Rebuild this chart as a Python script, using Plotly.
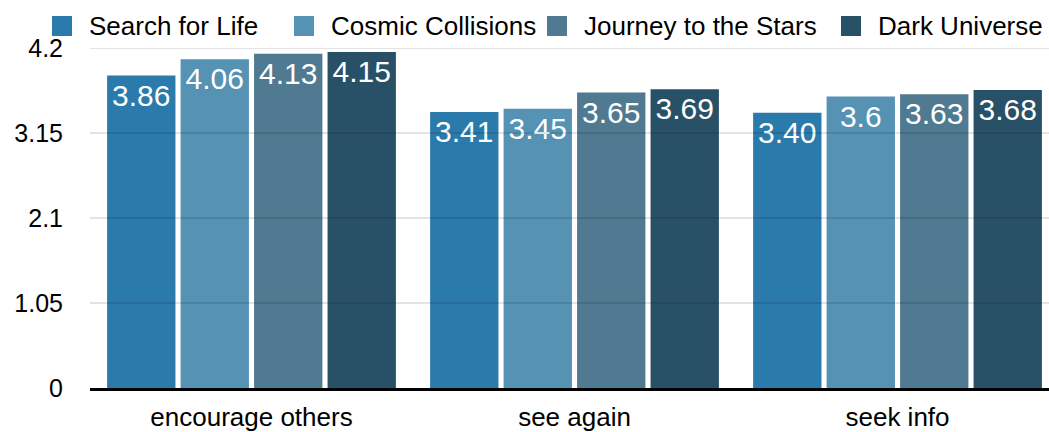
import plotly.graph_objects as go

categories = ["encourage others", "see again", "seek info"]
series_names = ["Search for Life", "Cosmic Collisions", "Journey to the Stars", "Dark Universe"]
search_for_life = [3.86, 3.41, 3.40]
cosmic_collisions = [4.06, 3.45, 3.60]
journey_to_the_stars = [4.13, 3.65, 3.63]
dark_universe = [4.15, 3.69, 3.68]
value_labels = [
    ["3.86", "3.41", "3.40"],
    ["4.06", "3.45", "3.6"],
    ["4.13", "3.65", "3.63"],
    ["4.15", "3.69", "3.68"],
]
y_ticks = [0, 1.05, 2.1, 3.15, 4.2]
y_tick_text = ["0", "1.05", "2.1", "3.15", "4.2"]

colors = ["#2A7BAB", "#5592B3", "#4F7A91", "#285067"]
series_values = [search_for_life, cosmic_collisions, journey_to_the_stars, dark_universe]

FONT = "Liberation Sans, Arial, Helvetica, sans-serif"
W, H = 1049, 432
ML, MR, MT, MB = 90, 0, 48, 44
PW, PH = W - ML - MR, H - MT - MB


def px_x(p):
    return (p - ML) / PW


def px_y(p):
    return (H - MB - p) / PH


fig = go.Figure()
for name, vals, labels, col in zip(series_names, series_values, value_labels, colors):
    fig.add_trace(go.Bar(
        x=categories, y=vals, name=name, text=labels,
        textposition="inside", insidetextanchor="end",
        textfont=dict(color="white", size=30, family=FONT),
        marker=dict(color=col, line=dict(width=0)),
        showlegend=False, constraintext="none",
        hoverinfo="x+y",
    ))

# gridlines above bars
for t in y_ticks[1:]:
    fig.add_shape(type="line", xref="paper", x0=0, x1=1, yref="y", y0=t, y1=t,
                  line=dict(color="rgba(0,0,0,0.22)", width=1), layer="above")

# legend (drawn manually to match the reference swatch size and spacing)
legend_swatch_left = [52, 294, 547, 841]
for name, col, sx in zip(series_names, colors, legend_swatch_left):
    fig.add_shape(type="rect", xref="paper", yref="paper",
                  x0=px_x(sx), x1=px_x(sx + 20), y0=px_y(36), y1=px_y(16),
                  fillcolor=col, line=dict(width=0), layer="above")
    fig.add_annotation(xref="paper", yref="paper", x=px_x(sx + 35), y=px_y(26),
                       xanchor="left", yanchor="middle", showarrow=False, text=name,
                       font=dict(size=26, family=FONT, color="black"))

fig.update_layout(
    width=W, height=H,
    margin=dict(l=ML, r=MR, t=MT, b=MB, autoexpand=False),
    paper_bgcolor="white", plot_bgcolor="white",
    barmode="group", bargap=0.09, bargroupgap=0.07,
    font=dict(family=FONT, size=25, color="black"),
    showlegend=False,
    xaxis=dict(range=[-0.5, 2.469], showline=True, linecolor="black", linewidth=3,
               showgrid=False, zeroline=False, ticks="", tickfont=dict(size=26),
               ticklabelstandoff=4),
    yaxis=dict(range=[0, 4.2], tickvals=y_ticks, ticktext=y_tick_text,
               showgrid=False, zeroline=False, ticks="", ticklabelstandoff=26,
               tickfont=dict(size=25)),
)

fig.write_html("out.html", config={"displayModeBar": False},
               post_script="document.body.style.margin='0';document.body.style.overflow='hidden';")
